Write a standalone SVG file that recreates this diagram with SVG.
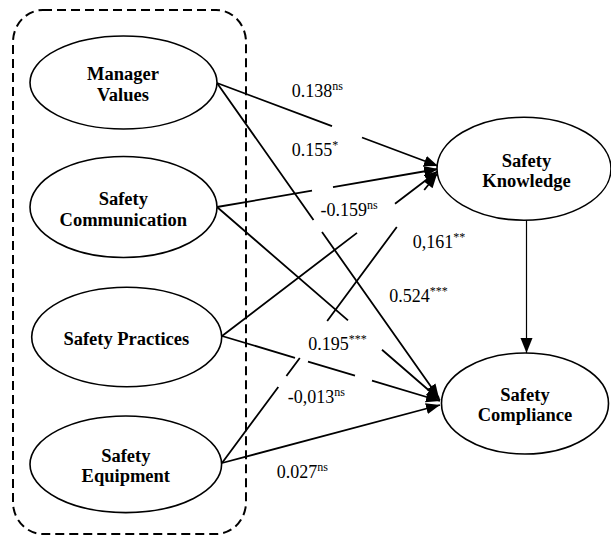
<svg xmlns="http://www.w3.org/2000/svg" width="611" height="537" viewBox="0 0 611 537">
<style>
.node{fill:#fff;stroke:#000;stroke-width:1.6}
.nl{font-family:"Liberation Serif","Times New Roman",serif;font-weight:bold;font-size:18.5px;text-anchor:middle;fill:#000}
.el{font-family:"Liberation Serif","Times New Roman",serif;font-size:18px;fill:#000}
.sup{font-size:12px}
.con{fill:none;stroke:#000;stroke-width:1.8}
.thin{fill:none;stroke:#000;stroke-width:1.2}
</style>
<defs>
<marker id="ah" markerUnits="userSpaceOnUse" markerWidth="16" markerHeight="12" refX="14" refY="5.5" orient="auto"><path d="M0,0 L14,5.5 L0,11 z" fill="#000"/></marker>
<marker id="ah2" markerUnits="userSpaceOnUse" markerWidth="16" markerHeight="13" refX="15" refY="6" orient="auto"><path d="M0,0 L15,6 L0,12 z" fill="#000"/></marker>
</defs>
<rect id="group" x="13" y="10" width="233" height="524" rx="30" ry="32" fill="none" stroke="#000" stroke-width="2" stroke-dasharray="9 5"/>
<g id="connectors">
<path class="con" marker-end="url(#ah)" d="M217,83 L332,126.2 M362,137.5 L438,166"/>
<path class="con" marker-end="url(#ah)" d="M217,83 L313.5,220 M322,232 L439,398"/>
<path class="con" marker-end="url(#ah)" d="M217,207 L312,190.7 M333,187.1 L438,169"/>
<path class="con" marker-end="url(#ah)" d="M217,207 L348,320.4 M382,349.8 L440,400"/>
<path class="con" marker-end="url(#ah)" d="M222,336 L357,232.9 M395,203.8 L438,171"/>
<path class="con" marker-end="url(#ah)" d="M222,463 L278.3,387 M286.4,376 L299.8,358 M327.2,321 L396.8,227 M424.2,190 L437,174"/>
<path class="con" marker-end="url(#ah)" d="M222,336 L295,357.8 M308,361.6 L355,375.7 M372,380.7 L440,401"/>
<path class="con" marker-end="url(#ah)" d="M222,463 L440,405"/>
<path class="thin" marker-end="url(#ah2)" d="M526.5,220 L526.5,353"/>
</g>
<g id="manager-values"><ellipse class="node" cx="123.5" cy="82.5" rx="93.5" ry="46.5"/><text class="nl" x="123" y="80">Manager</text><text class="nl" x="123" y="100.5">Values</text></g>
<g id="safety-communication"><ellipse class="node" cx="123.5" cy="207" rx="93.5" ry="50.5"/><text class="nl" x="123.3" y="205">Safety</text><text class="nl" x="123.3" y="225.5">Communication</text></g>
<g id="safety-practices"><ellipse class="node" cx="126.7" cy="337" rx="95" ry="49.7"/><text class="nl" x="126.3" y="345">Safety Practices</text></g>
<g id="safety-equipment"><ellipse class="node" cx="125.8" cy="464.3" rx="95.8" ry="48.3"/><text class="nl" x="125.8" y="461.7">Safety</text><text class="nl" x="125.8" y="482">Equipment</text></g>
<g id="safety-knowledge"><ellipse class="node" cx="524" cy="168.7" rx="87" ry="51.5"/><text class="nl" x="526.5" y="166.7">Safety</text><text class="nl" x="526.5" y="187">Knowledge</text></g>
<g id="safety-compliance"><ellipse class="node" cx="525" cy="403.5" rx="83.5" ry="50.5"/><text class="nl" x="525" y="400.7">Safety</text><text class="nl" x="525" y="421">Compliance</text></g>
<g id="labels">
<text class="el" x="291.7" y="96.7">0.138<tspan class="sup" dy="-7">ns</tspan></text>
<text class="el" x="291.7" y="156">0.155<tspan class="sup" dy="-7">*</tspan></text>
<text class="el" x="320.5" y="215.5">-0.159<tspan class="sup" dy="-7">ns</tspan></text>
<text class="el" x="412.7" y="248">0,161<tspan class="sup" dy="-7">**</tspan></text>
<text class="el" x="389.3" y="301.7">0.524<tspan class="sup" dy="-7">***</tspan></text>
<text class="el" x="308.3" y="350">0.195<tspan class="sup" dy="-7">***</tspan></text>
<text class="el" x="287.8" y="403">-0,013<tspan class="sup" dy="-7">ns</tspan></text>
<text class="el" x="276.7" y="478">0.027<tspan class="sup" dy="-7">ns</tspan></text>
</g>
</svg>
